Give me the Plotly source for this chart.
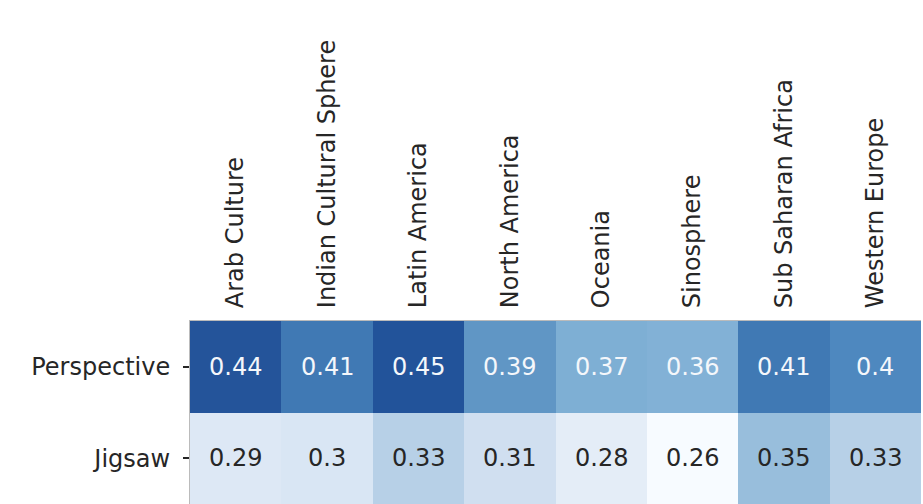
import plotly.graph_objects as go

regions = ["Arab Culture", "Indian Cultural Sphere", "Latin America", "North America",
           "Oceania", "Sinosphere", "Sub Saharan Africa", "Western Europe"]
models = ["Perspective", "Jigsaw"]
perspective = [0.44, 0.41, 0.45, 0.39, 0.37, 0.36, 0.41, 0.40]
jigsaw = [0.29, 0.30, 0.33, 0.31, 0.28, 0.26, 0.35, 0.33]

z = [perspective, jigsaw]

zmin, zmax = 0.26, 0.45
# colour stops (value -> colour)
stop_values = [0.26, 0.28, 0.29, 0.30, 0.31, 0.33, 0.35, 0.36, 0.37, 0.39, 0.40, 0.41, 0.44, 0.45]
stop_colors = ["#f7fbff", "#e4edf7", "#dde8f5", "#d9e6f4", "#d0dff0", "#b7d0e7", "#98bedc",
               "#82b1d6", "#7eafd4", "#6096c5", "#4e88bf", "#4079b4", "#24549a", "#22539a"]
colorscale = [[(v - zmin) / (zmax - zmin), c] for v, c in zip(stop_values, stop_colors)]

fig = go.Figure(go.Heatmap(
    z=z, x=regions, y=models, colorscale=colorscale, zmin=zmin, zmax=zmax,
    showscale=False, xgap=0, ygap=0, hoverinfo="skip",
))

FONT = "DejaVu Sans"
SIZE = 24
annotations = []
for r, row in enumerate(z):
    for c, v in enumerate(row):
        annotations.append(dict(
            x=regions[c], y=models[r], text=f"{v:g}", showarrow=False,
            font=dict(family=FONT, size=SIZE, color="#f4f7fb" if v >= 0.355 else "#262626"),
        ))

fig.update_layout(
    width=923, height=504,
    margin=dict(l=190, r=2, t=321, b=0, pad=0),
    paper_bgcolor="white", plot_bgcolor="white",
    annotations=annotations,
    font=dict(family=FONT, size=SIZE, color="#262626"),
)
fig.update_xaxes(side="top", tickangle=-90, showgrid=False, zeroline=False,
                 showline=True, linecolor="#bbbbbb", linewidth=1,
                 ticks="", ticklabelstandoff=7, automargin=False,
                 tickfont=dict(family=FONT, size=SIZE, color="#262626"))
fig.update_yaxes(autorange="reversed", showgrid=False, zeroline=False,
                 showline=True, linecolor="#bbbbbb", linewidth=1,
                 ticks="outside", ticklen=6, tickcolor="#262626", tickwidth=1.5,
                 ticklabelstandoff=8, automargin=False,
                 tickfont=dict(family=FONT, size=SIZE, color="#262626"))

fig.write_html(
    "out.html",
    config={"displayModeBar": False},
    post_script="document.body.style.margin='0';document.body.style.overflow='hidden';",
)
